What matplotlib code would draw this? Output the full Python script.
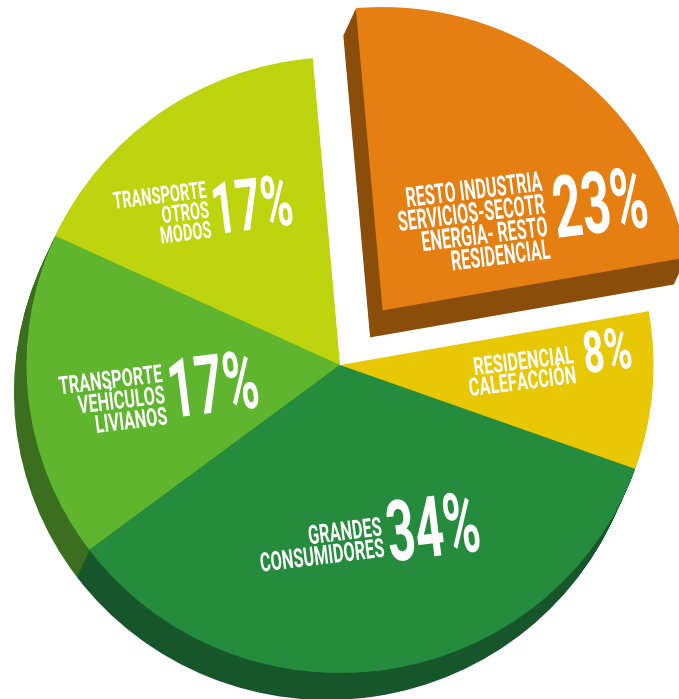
import matplotlib
matplotlib.use("Agg")
import matplotlib.pyplot as plt
from matplotlib.patheffects import AbstractPathEffect
from matplotlib.transforms import Affine2D

# slices, counter clockwise starting from the yellow one
labels = ["RESIDENCIAL\nCALEFACCIÓN", "RESTO INDUSTRIA\nSERVICIOS-SECOTR\nENERGÍA- RESTO\nRESIDENCIAL",
          "TRANSPORTE\nOTROS\nMODOS", "TRANSPORTE\nVEHÍCULOS\nLIVIANOS", "GRANDES\nCONSUMIDORES"]
percents = ["8%", "23%", "17%", "17%", "34%"]
# measured angular shares, the printed percents only add up to 99
values = [8.2, 23.4, 16.6, 17.0, 34]
top_colors = ["#E8C805", "#E67F11", "#BDD40F", "#5FB52D", "#258C3E"]
side_colors = ["#E8C805", "#8A4E0A", "#BDD40F", "#3B6E1E", "#17562B"]
explode = [0, 70, 0, 0, 0]

W, H = 679, 699
squash = 308 / 313.5  # pie is a bit flatter than wide
cx, cy = 340, (H - 365) / squash
radius = 313.5
start = -19.7
TILT = 7


class Narrow(AbstractPathEffect):
    # no condensed font installed, so squeeze the glyphs along the baseline
    def __init__(self, sx, px, py):
        self.squeeze = (Affine2D().translate(-px, -py).rotate_deg(-TILT).scale(sx, 1)
                        .rotate_deg(TILT).translate(px, py))

    def draw_path(self, renderer, gc, tpath, affine, rgbFace=None):
        renderer.draw_path(gc, tpath, affine + self.squeeze, rgbFace)


plt.rcParams["font.family"] = ["Roboto", "DejaVu Sans"]
plt.rcParams["font.weight"] = "bold"

fig = plt.figure(figsize=(W / 100, H / 100), dpi=100)
ax = fig.add_axes([0, 0, 1, 1])

# side of the pie: same pie stacked down and to the left
steps = 27
for i in range(steps, 0, -1):
    side, _ = ax.pie(values, explode=explode, colors=side_colors, startangle=start, radius=radius,
                     center=(cx - i * 12.5 / steps, cy - i / squash), wedgeprops={"linewidth": 0}, frame=False)
    side[1].set_radius(radius * 0.985)
top, _ = ax.pie(values, explode=explode, colors=top_colors, startangle=start, radius=radius,
                center=(cx, cy), wedgeprops={"linewidth": 0}, frame=False)
top[1].set_radius(radius * 0.985)

ax.set_aspect("auto")
ax.set_xlim(0, W)
ax.set_ylim(0, H / squash)
ax.axis("off")


def label(px, py, s, size, sx, ls=0.8):
    t = ax.text(px, (H - py) / squash, s, color="white", fontsize=size, ha="right", va="center",
                rotation=TILT, rotation_mode="anchor", linespacing=ls, multialignment="right")
    t.set_path_effects([Narrow(sx, px, H - py)])


label(546, 217, labels[1], 20, 0.58, ls=0.8)
label(648, 203, percents[1], 62, 0.585)
label(575, 366, labels[0], 18, 0.65, ls=0.8)
label(632, 352, percents[0], 42, 0.64)
label(209, 211, labels[2], 17, 0.62, ls=0.84)
label(293, 205, percents[2], 52, 0.6)
label(165, 396, labels[3], 18, 0.65, ls=0.86)
label(259, 385, percents[3], 59, 0.59)
label(383, 539, labels[4], 19, 0.62, ls=0.86)
label(480, 527, percents[4], 61, 0.585)

fig.savefig("out.png", dpi=100)
